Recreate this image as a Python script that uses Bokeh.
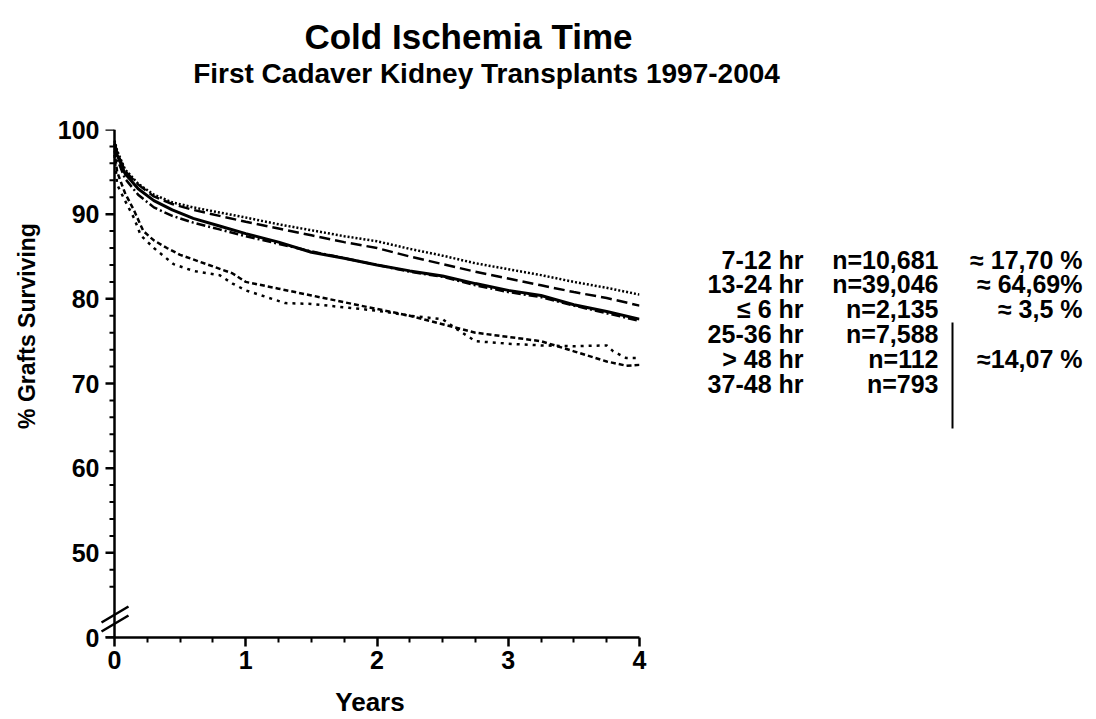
from bokeh.plotting import figure
from bokeh.models import Range1d, FixedTicker
from bokeh.layouts import column, row
from bokeh.core.properties import value
from bokeh.embed import file_html
from bokeh.resources import INLINE

# ---------------- data ----------------
t_main = [0, 0.02, 0.08, 0.18, 0.3, 0.44, 0.6, 0.8, 1.0, 1.25, 1.5, 1.75, 2.0, 2.25, 2.5, 2.75, 3.0, 3.25, 3.5, 3.75, 4.0]
surv_7_12 = [98.7, 97.5, 95.3, 93.6, 92.3, 91.4, 90.8, 90.2, 89.6, 88.8, 88.1, 87.4, 86.8, 85.9, 85.1, 84.2, 83.5, 82.8, 82.0, 81.3, 80.5]
surv_13_24 = [98.5, 97.3, 95.1, 93.5, 92.1, 91.2, 90.5, 89.8, 89.1, 88.3, 87.5, 86.7, 86.0, 85.0, 84.1, 83.2, 82.4, 81.6, 80.8, 80.1, 79.2]
surv_le6 = [98.3, 97.0, 94.8, 93.0, 91.6, 90.5, 89.5, 88.6, 87.7, 86.7, 85.5, 84.8, 84.0, 83.3, 82.7, 81.8, 81.0, 80.4, 79.3, 78.5, 77.6]
surv_25_36 = [97.8, 96.5, 94.2, 92.3, 90.8, 89.8, 89.0, 88.2, 87.4, 86.5, 85.6, 84.8, 84.0, 83.2, 82.6, 81.6, 80.8, 80.2, 79.2, 78.3, 77.4]

t_gt48 = [0, 0.02, 0.08, 0.15, 0.2, 0.3, 0.45, 0.6, 0.8, 0.9, 1.0, 1.2, 1.3, 1.5, 1.75, 2.0, 2.25, 2.5, 2.6, 2.75, 3.0, 3.25, 3.5, 3.75, 3.8, 3.9, 4.0]
surv_gt48 = [97.0, 93.5, 91.6, 89.5, 87.5, 86.0, 84.1, 83.3, 82.8, 81.8, 81.0, 80.0, 79.5, 79.4, 79.0, 78.6, 78.0, 77.6, 76.5, 75.0, 74.7, 74.5, 74.4, 74.5, 73.8, 73.0, 73.0]

t_37_48 = [0, 0.02, 0.08, 0.15, 0.22, 0.3, 0.4, 0.5, 0.7, 0.9, 1.0, 1.25, 1.5, 1.75, 2.0, 2.25, 2.5, 2.75, 3.0, 3.25, 3.5, 3.75, 3.9, 4.0]
surv_37_48 = [97.5, 95.0, 92.5, 90.4, 88.0, 86.9, 86.0, 85.2, 84.1, 83.0, 82.0, 81.2, 80.4, 79.6, 78.8, 78.0, 77.0, 76.0, 75.5, 75.0, 73.8, 72.6, 72.1, 72.2]

groups = ["7-12 hr", "13-24 hr", "\u2264 6 hr", "25-36 hr", "> 48 hr", "37-48 hr"]
counts = ["n=10,681", "n=39,046", "n=2,135", "n=7,588", "n=112", "n=793"]
shares = ["\u2248 17,70 %", "\u2248 64,69%", "\u2248 3,5 %", "", "\u224814,07 %", ""]

x_ticks = [0, 1, 2, 3, 4]
x_minor = [0.25, 0.5, 0.75, 1.25, 1.5, 1.75, 2.25, 2.5, 2.75, 3.25, 3.5, 3.75]
y_ticks = [40, 50, 60, 70, 80, 90, 100]
y_minor = [46, 48, 52, 54, 56, 58, 62, 64, 66, 68, 72, 74, 76, 78, 82, 84, 86, 88, 92, 94, 96, 98]
y_tick_labels = {40: "0"}

title_text = "Cold Ischemia Time"
subtitle_text = "First Cadaver Kidney Transplants 1997-2004"
y_label = "% Grafts Surviving"
x_label = "Years"

# ---------------- layout ----------------
W, H = 1096, 719
TOP_H = 110            # title strip height
MAIN_W = 660           # width of the chart panel
FL, FR, FT, FB = 100, 639, 129, 637   # frame edges in page pixels
AX0 = 114              # page x of year 0
Y0, Y1 = 40, 100
XPX = (FR - AX0) / 4.0
YPX = (FB - FT) / (Y1 - Y0)

def dx(px):
    return (px - AX0) / XPX

def dy(py):
    return Y0 + (FB - py) / YPX

FONT = "Liberation Sans"
INK = "black"

# title strip
top = figure(width=W, height=TOP_H, output_backend="svg", toolbar_location=None,
             x_axis_type=None, y_axis_type=None, min_border=0,
             x_range=Range1d(0, W), y_range=Range1d(TOP_H, 0))
top.outline_line_color = None
top.grid.visible = False
top.text(x=[468], y=[36], text=[title_text], text_align="center", text_baseline="middle",
         text_font=value(FONT), text_font_style="bold", text_font_size="35px", text_color=INK)
top.text(x=[486], y=[73], text=[subtitle_text], text_align="center", text_baseline="middle",
         text_font=value(FONT), text_font_style="bold", text_font_size="28px", text_color=INK)

# main chart
p = figure(width=MAIN_W, height=H - TOP_H, output_backend="svg", toolbar_location=None,
           x_range=Range1d(dx(FL), 4), y_range=Range1d(Y0, Y1),
           min_border_left=FL, min_border_right=MAIN_W - FR,
           min_border_top=FT - TOP_H, min_border_bottom=H - FB)
p.outline_line_color = None
p.xgrid.visible = False
p.ygrid.visible = False

p.xaxis.ticker = FixedTicker(ticks=x_ticks, minor_ticks=x_minor)
p.xaxis.bounds = (dx(105), 4)
p.yaxis.ticker = FixedTicker(ticks=y_ticks, minor_ticks=y_minor)
p.yaxis.major_label_overrides = y_tick_labels
for ax in (p.xaxis, p.yaxis):
    ax.major_label_text_font = FONT
    ax.major_label_text_font_style = "bold"
    ax.major_label_text_font_size = "25px"
    ax.major_label_text_color = INK
    ax.axis_label_text_font = FONT
    ax.axis_label_text_font_style = "bold"
    ax.axis_label_text_color = INK

p.xaxis.axis_line_width = 2.5
p.xaxis.axis_line_color = INK
p.xaxis.major_tick_line_width = 2.5
p.xaxis.major_tick_in = 0
p.xaxis.major_tick_out = 9
p.xaxis.minor_tick_line_width = 2
p.xaxis.minor_tick_in = 0
p.xaxis.minor_tick_out = 5
p.xaxis.major_label_standoff = 4
p.xaxis.axis_label = x_label
p.xaxis.axis_label_text_font_size = "26px"
p.xaxis.axis_label_standoff = 15

# y axis: labels from the library axis at the frame edge, line and ticks drawn at year 0
p.yaxis.axis_line_color = None
p.yaxis.major_tick_line_color = None
p.yaxis.minor_tick_line_color = None
p.yaxis.major_tick_out = 0
p.yaxis.major_tick_in = 0
p.yaxis.minor_tick_out = 0
p.yaxis.minor_tick_in = 0
p.yaxis.major_label_standoff = 1
p.yaxis.axis_label = "\u00a0" * 18 + y_label
p.yaxis.axis_label_text_font_size = "23px"
p.yaxis.axis_label_standoff = 15

p.segment(x0=[0], y0=[Y0], x1=[0], y1=[Y1], line_color=INK, line_width=2.5)
p.segment(x0=[dx(AX0 - 9)] * len(y_ticks), y0=y_ticks, x1=[0] * len(y_ticks), y1=y_ticks,
          line_color=INK, line_width=2.5)
p.segment(x0=[dx(AX0 - 5)] * len(y_minor), y0=y_minor, x1=[0] * len(y_minor), y1=y_minor,
          line_color=INK, line_width=2)

# curves
p.line(t_main, surv_7_12, line_color=INK, line_width=2.5, line_dash="2 2")
p.line(t_main, surv_13_24, line_color=INK, line_width=2.5, line_dash="11 5")
p.line(t_main, surv_le6, line_color=INK, line_width=3)
p.line(t_main, surv_25_36, line_color=INK, line_width=2.5, line_dash="9 3 2 3")
p.line(t_gt48, surv_gt48, line_color=INK, line_width=2.5, line_dash="3 5")
p.line(t_37_48, surv_37_48, line_color=INK, line_width=2.5, line_dash="5 3")

# axis break marks
brk = [(101, 631, 128, 615), (101, 622, 128, 606)]
p.segment(x0=[dx(b[0]) for b in brk], y0=[dy(b[1]) for b in brk],
          x1=[dx(b[2]) for b in brk], y1=[dy(b[3]) for b in brk],
          line_color=INK, line_width=2.5)

# side table (frame aligned with the chart frame, page-pixel coordinates)
RW = W - MAIN_W
side = figure(width=RW, height=H - TOP_H, output_backend="svg", toolbar_location=None,
              x_axis_type=None, y_axis_type=None,
              min_border_left=0, min_border_right=0,
              min_border_top=FT - TOP_H, min_border_bottom=H - FB,
              x_range=Range1d(MAIN_W, W), y_range=Range1d(FB, FT))
side.outline_line_color = None
side.grid.visible = False
row_y = [259, 283, 308, 333, 358, 383]
side.text(x=[803] * len(groups), y=row_y, text=groups, text_align="right", text_baseline="middle",
          text_font=value(FONT), text_font_style="bold", text_font_size="25px", text_color=INK)
side.text(x=[938] * len(counts), y=row_y, text=counts, text_align="right", text_baseline="middle",
          text_font=value(FONT), text_font_style="bold", text_font_size="25px", text_color=INK)
sh_y = [row_y[i] for i in range(len(shares)) if shares[i]]
sh_t = [s for s in shares if s]
side.text(x=[1082] * len(sh_t), y=sh_y, text=sh_t, text_align="right", text_baseline="middle",
          text_font=value(FONT), text_font_style="bold", text_font_size="25px", text_color=INK)
side.segment(x0=[952], y0=[322], x1=[952], y1=[428], line_color=INK, line_width=2)

layout = column(top, row(p, side))
open("out.html", "w").write(file_html(layout, INLINE))
